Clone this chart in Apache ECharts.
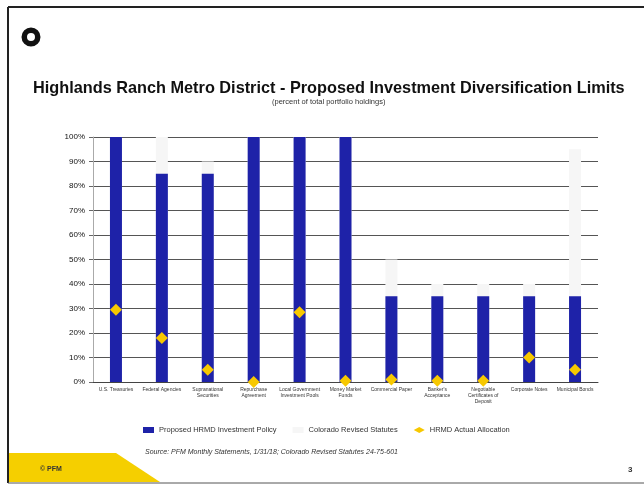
<!DOCTYPE html>
<html>
<head>
<meta charset="utf-8">
<script src="https://cdn.jsdelivr.net/npm/echarts@6/dist/echarts.min.js"></script>
<style>
  html, body { margin: 0; padding: 0; background: #fff; }
  #chart { width: 644px; height: 485px; }
</style>
</head>
<body>
<div id="chart"></div>
<script>
var categories = [
    "U.S. Treasuries", "Federal Agencies", "Supranational\nSecurities", "Repurchase\nAgreement",
    "Local Government\nInvestment Pools", "Money Market\nFunds", "Commercial Paper", "Banker's\nAcceptance",
    "Negotiable\nCertificates of\nDeposit", "Corporate Notes", "Municipal Bonds"
]
var policyLimits = [100, 85, 85, 100, 100, 100, 35, 35, 35, 35, 35]
var statuteLimits = [100, 100, 90, 100, 100, 100, 50, 40, 40, 40, 95]
var actualAllocation = [29.5, 18, 5, 0, 28.5, 0.5, 1, 0.5, 0.5, 10, 5]
var yTicks = [0, 10, 20, 30, 40, 50, 60, 70, 80, 90, 100]

var chartDom = document.getElementById("chart")
var myChart = echarts.init(chartDom)
var option

option = {
    backgroundColor: "#fff",
    textStyle: { fontFamily: "Liberation Sans, Arial, sans-serif" },
    title: {
        text: "Highlands Ranch Metro District - Proposed Investment Diversification Limits",
        left: 28,
        top: 76,
        textStyle: { fontSize: 16.3, fontWeight: "bold", color: "#111" }
    },
    graphic: [
        // slide frame
        { type: "line", shape: { x1: 8, y1: 7, x2: 644, y2: 7 }, style: { stroke: "#222", lineWidth: 2 } },
        { type: "line", shape: { x1: 8, y1: 7, x2: 8, y2: 483 }, style: { stroke: "#222", lineWidth: 2 } },
        { type: "line", shape: { x1: 8, y1: 483, x2: 644, y2: 483 }, style: { stroke: "#555", lineWidth: 1 } },
        // logo
        { type: "ring", shape: { cx: 31, cy: 37, r: 9.5, r0: 4 }, style: { fill: "#111" } },
        // footer
        { type: "polygon", shape: { points: [[9, 453], [116, 453], [160, 482], [9, 482]] }, style: { fill: "#f5cf00" } },
        { type: "text", left: 40, top: 466, style: { text: "© PFM", fontSize: 7, fontWeight: "bold", fill: "#333" } },
        { type: "text", left: 628, top: 466, style: { text: "3", fontSize: 8, fontWeight: "bold", fill: "#333" } },
        { type: "text", left: 272, top: 98, style: { text: "(percent of total portfolio holdings)", fontSize: 7.5, fill: "#333" } },
        {
            type: "text", left: 145, top: 449,
            style: { text: "Source: PFM Monthly Statements, 1/31/18; Colorado Revised Statutes 24-75-601", fontSize: 7, fontStyle: "italic", fill: "#333" }
        }
    ],
    legend: {
        top: 421,
        left: 138,
        itemWidth: 11,
        itemHeight: 6,
        itemGap: 16,
        textStyle: { fontSize: 7.5, color: "#333" },
        data: [
            { name: "Proposed HRMD Investment Policy", icon: "rect" },
            { name: "Colorado Revised Statutes", icon: "rect" },
            { name: "HRMD Actual Allocation", icon: "diamond" }
        ]
    },
    grid: {
        left: 93,
        right: 46,
        top: 137,
        bottom: 103
    },
    xAxis: {
        type: "category",
        data: categories,
        axisTick: { show: false },
        axisLine: { lineStyle: { color: "#444" } },
        axisLabel: { interval: 0, fontSize: 5, lineHeight: 6, color: "#333", margin: 5 }
    },
    yAxis: {
        type: "value",
        min: 0,
        max: 100,
        interval: 10,
        axisLine: { show: true, lineStyle: { color: "#aaa" } },
        axisTick: { show: true, length: 4, lineStyle: { color: "#666" } },
        axisLabel: {
            fontSize: 8, color: "#111", margin: 8,
            formatter: function (v) { return yTicks.indexOf(v) >= 0 ? v + "%" : "" }
        },
        splitLine: { lineStyle: { color: "#555", width: 1 } }
    },
    series: [
        {
            name: "Colorado Revised Statutes",
            type: "bar",
            barWidth: 12,
            itemStyle: { color: "#f6f6f6" },
            data: statuteLimits
        },
        {
            name: "Proposed HRMD Investment Policy",
            type: "bar",
            barWidth: 12,
            barGap: "-100%",
            itemStyle: { color: "#1e22a8" },
            data: policyLimits
        },
        {
            name: "HRMD Actual Allocation",
            type: "scatter",
            symbol: "diamond",
            symbolSize: 12,
            z: 5,
            itemStyle: { color: "#f7c800", opacity: 1 },
            data: actualAllocation
        }
    ]
}

option && myChart.setOption(option)
</script>
</body>
</html>
